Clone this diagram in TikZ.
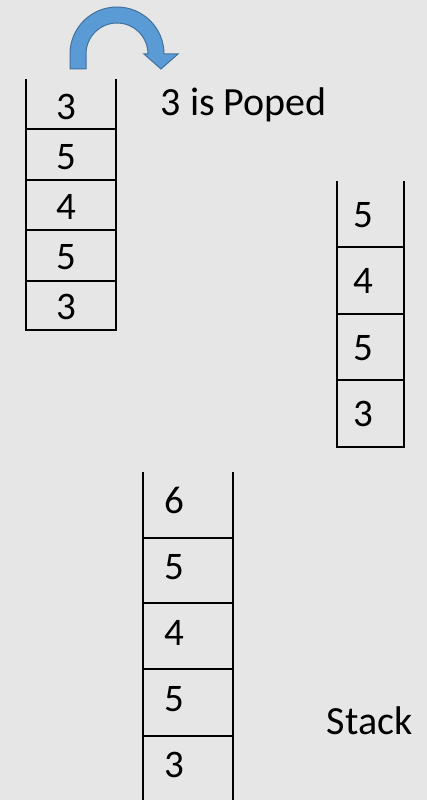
\documentclass[tikz,border=0pt]{standalone}
\usepackage{fontspec}
\setmainfont{Carlito}
\definecolor{slidegray}{HTML}{E7E6E6}
\definecolor{arrowblue}{HTML}{5B9BD5}
\definecolor{arrowedge}{HTML}{41719C}

\begin{document}
\begin{tikzpicture}[x=1pt, y=-1pt, line width=1.5pt,
  digit/.style={inner sep=0pt, anchor=base west, font=\fontsize{39}{47}\selectfont},
  note/.style={inner sep=0pt, anchor=base west, font=\fontsize{40}{48}\selectfont}]
  % slide background
  \fill[slidegray] (0,0) rectangle (427,800);
  \useasboundingbox (0,0) rectangle (427,800);

  % stack before the pop
  \draw (26,79) -- (26,330) -- (116,330) -- (116,79);
  \foreach \y in {129,180,230,281}
    \draw (26,\y) -- (116,\y);
  \foreach \v [count=\i] in {3,5,4,5,3}
    \node[digit] (a\i) at (56,{119+50.2*(\i-1)}) {\v};

  % pop arrow
  \filldraw[fill=arrowblue, draw=arrowedge, line width=1pt]
    (70,69) -- (70,54) arc[start angle=180, end angle=0, radius=47pt]
    -- (178,54) -- (161,69) -- (144,54) -- (148,54)
    arc[start angle=0, end angle=180, radius=31pt] -- (86,69) -- cycle;
  \node[note] (popped) at (160,115) {3 is Poped};

  % stack after the pop
  \draw (337,181) -- (337,447) -- (404,447) -- (404,181);
  \foreach \y in {247,314,380}
    \draw (337,\y) -- (404,\y);
  \foreach \v [count=\i] in {5,4,5,3}
    \node[digit] (b\i) at (353,{227+66.5*(\i-1)}) {\v};

  % stack after the push
  \draw (143,472) -- (143,800);
  \draw (233,472) -- (233,800);
  \foreach \y in {538,603,669,736}
    \draw (143,\y) -- (233,\y);
  \foreach \v [count=\i] in {6,5,4,5,3}
    \node[digit] (c\i) at (164,{513+66*(\i-1)}) {\v};
  \node[note] (stack) at (326,734) {Stack};
\end{tikzpicture}
\end{document}
